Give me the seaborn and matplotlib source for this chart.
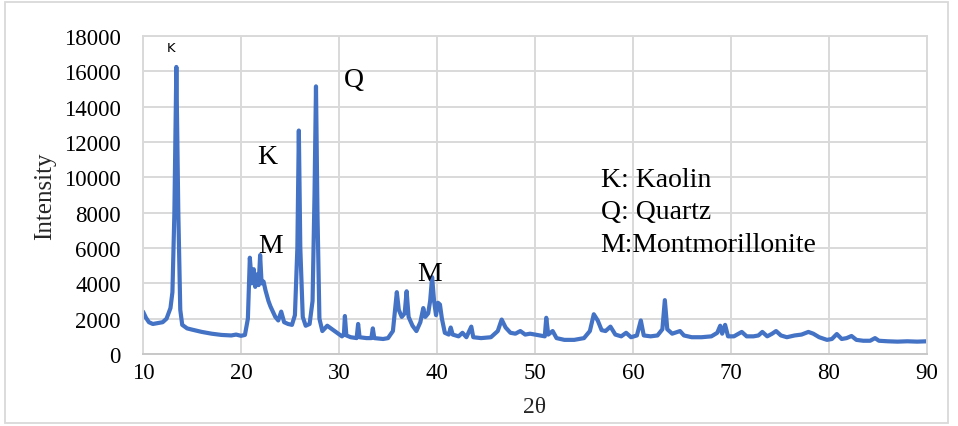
import matplotlib
matplotlib.use("Agg")
import matplotlib.pyplot as plt
import seaborn as sns
import pandas as pd
from matplotlib.patches import Rectangle

two_theta = [10.0, 10.3, 10.6, 11.0, 11.5, 12.0, 12.4, 12.8, 13.0, 13.2, 13.4, 13.6, 13.8, 14.0, 14.5,
             15.0, 16.0, 17.0, 18.0, 19.0, 19.5, 20.0, 20.4, 20.7, 20.9, 21.1, 21.3, 21.45, 21.6, 21.8,
             21.95, 22.1, 22.3, 22.5, 22.8, 23.0, 23.5, 23.8, 24.1, 24.4, 24.8, 25.2, 25.5, 25.75, 25.9,
             26.05, 26.3, 26.6, 27.0, 27.3, 27.5, 27.65, 27.8, 28.0, 28.3, 28.8, 29.3, 29.8, 30.3, 30.5,
             30.6, 30.75, 31.2, 31.8, 31.95, 32.1, 32.8, 33.3, 33.45, 33.6, 34.5, 35.0, 35.5, 35.9, 36.1,
             36.4, 36.7, 36.9, 37.1, 37.5, 37.9, 38.3, 38.6, 38.8, 39.1, 39.3, 39.5, 39.7, 39.9, 40.1,
             40.3, 40.5, 40.8, 41.2, 41.4, 41.6, 42.2, 42.6, 43.0, 43.5, 43.7, 44.5, 45.5, 46.2, 46.6,
             47.0, 47.5, 48.0, 48.5, 49.0, 49.5, 50.5, 51.0, 51.15, 51.35, 51.8, 52.2, 53.0, 54.0, 55.0,
             55.6, 56.0, 56.4, 56.8, 57.2, 57.7, 58.2, 58.8, 59.3, 59.8, 60.4, 60.8, 61.1, 61.8, 62.5,
             63.0, 63.25, 63.5, 64.0, 64.8, 65.2, 66.0, 67.0, 68.0, 68.6, 68.9, 69.1, 69.4, 69.7, 70.3,
             71.1, 71.6, 72.3, 72.8, 73.2, 73.7, 74.2, 74.6, 75.1, 75.7, 76.5, 77.2, 77.9, 78.4, 79.0,
             79.8, 80.3, 80.8, 81.3, 81.8, 82.3, 82.8, 83.5, 84.2, 84.7, 85.1, 86.0, 87.0, 88.0, 89.0,
             90.0]
intensity = [2400, 2050, 1800, 1700, 1750, 1800, 2000, 2600, 3500, 8000, 16250, 8000, 2500, 1650, 1450,
             1380, 1250, 1150, 1080, 1050, 1100, 1030, 1080, 2000, 5450, 4000, 4800, 3800, 4500, 3900,
             5600, 4000, 4100, 3600, 3000, 2700, 2100, 1900, 2400, 1800, 1700, 1650, 2200, 6000, 12650,
             6000, 2100, 1600, 1700, 3000, 9000, 15150, 8000, 2000, 1300, 1600, 1400, 1200, 1000, 1100,
             2150, 1050, 950, 900, 1700, 950, 900, 900, 1450, 900, 850, 900, 1300, 3500, 2500,
             2100, 2300, 3550, 2100, 1600, 1300, 1800, 2600, 2100, 2300, 3000, 4350, 3000, 2200, 2900,
             2800, 2000, 1200, 1100, 1500, 1100, 1000, 1200, 950, 1550, 950, 900, 950, 1300, 1950,
             1500, 1200, 1150, 1300, 1100, 1150, 1050, 1000, 2050, 1100, 1300, 900, 800, 800, 900,
             1300, 2250, 1900, 1350, 1300, 1550, 1100, 1000, 1200, 950, 1050, 1900, 1050, 1000, 1050,
             1400, 3050, 1400, 1150, 1300, 1050, 950, 950, 1000, 1200, 1600, 1150, 1650, 1000, 1000,
             1250, 1000, 1000, 1050, 1250, 1000, 1150, 1300, 1050, 950, 1050, 1100, 1250, 1150, 950,
             800, 850, 1130, 850, 900, 1020, 800, 750, 750, 900, 750, 720, 700, 720, 700,
             720]

x_ticks = [10, 20, 30, 40, 50, 60, 70, 80, 90]
y_ticks = [0, 2000, 4000, 6000, 8000, 10000, 12000, 14000, 16000, 18000]

peak_labels = ["K", "Q", "K", "M", "M"]
peak_label_x = [12.86, 30.5, 21.7, 21.8, 38.0]
peak_label_y = [17370, 15560, 11200, 6170, 4580]
legend_lines = ["K: Kaolin", "Q: Quartz", "M:Montmorillonite"]
legend_y = [9850, 8090, 6225]

df = pd.DataFrame({"2θ": two_theta, "Intensity": intensity})

sns.set_style("white")
serif = ["Liberation Serif", "DejaVu Serif"]
plt.rcParams["font.family"] = serif

fig = plt.figure(figsize=(9.58, 4.27), dpi=100)
ax = fig.add_axes([0.1493, 0.1686, 0.8183, 0.7447])

sns.lineplot(data=df, x="2θ", y="Intensity", ax=ax, color="#4472C4",
             linewidth=3.0, estimator=None, sort=False,
             solid_joinstyle="round", solid_capstyle="round")

ax.set_xlim(10, 90)
ax.set_ylim(0, 18000)
ax.set_xticks(x_ticks)
ax.set_yticks(y_ticks)
ax.set_xticklabels([str(v) for v in x_ticks])
ax.set_yticklabels([str(v) for v in y_ticks])
ax.grid(True, color="#d9d9d9", linewidth=1.4)
ax.set_axisbelow(True)
for s in ax.spines.values():
    s.set_color("#d9d9d9")
    s.set_linewidth(1.4)
ax.spines["bottom"].set_color("#c8c8c8")
ax.tick_params(axis="both", length=0, labelsize=16.5, colors="black")
ax.tick_params(axis="y", pad=16)
ax.tick_params(axis="x", pad=6)
ax.set_xlabel("2θ", fontsize=17, labelpad=9)
ax.set_ylabel("Intensity", fontsize=18, labelpad=6)

for i, (t, x, y) in enumerate(zip(peak_labels, peak_label_x, peak_label_y)):
    if i == 0:
        ax.text(x, y, t, fontsize=9.5, ha="center", va="center",
                family=["DejaVu Sans"], color="black")
    else:
        ax.text(x, y, t, fontsize=20, ha="left", va="center", color="black")

for t, y in zip(legend_lines, legend_y):
    ax.text(56.7, y, t, fontsize=20, ha="left", va="center", color="black")

fig.patches.append(Rectangle((0.005, 0.006), 0.985, 0.988, transform=fig.transFigure,
                             fill=False, edgecolor="#d9d9d9", linewidth=1.3))

fig.savefig("out.png", dpi=100)
